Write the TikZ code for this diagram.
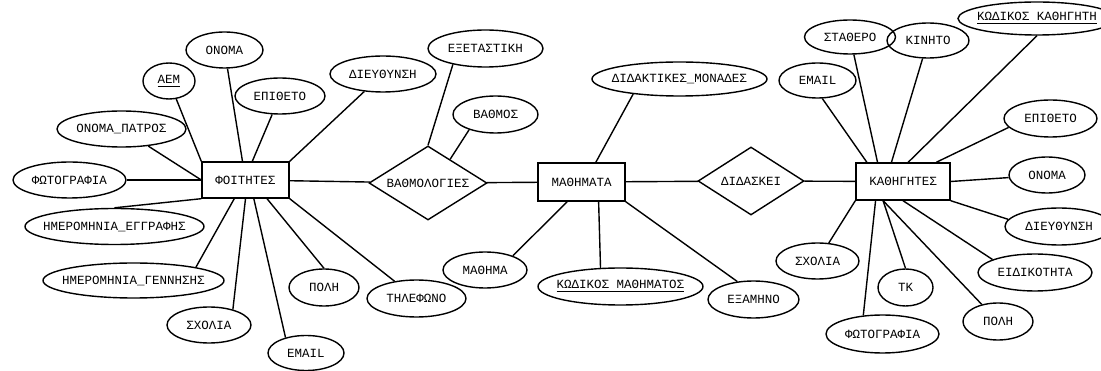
\documentclass[tikz,border=0pt]{standalone}
\usepackage{fontspec}
\setmonofont{Liberation Mono}
\usetikzlibrary{shapes.geometric}

\newlength\keywd
\newcommand\keyattr[1]{\settowidth\keywd{#1}#1\llap{\rule[-3.5pt]{\keywd}{1.3pt}}}

\begin{document}
\begin{tikzpicture}[x=1pt,y=-1pt,line width=1.4pt,
  font=\ttfamily\fontsize{12.5}{14}\selectfont,
  entity node/.style={rectangle,draw,inner sep=0pt},
  rel node/.style={diamond,draw,aspect=2,inner sep=0pt},
  attr node/.style={ellipse,draw,inner xsep=-20pt,inner ysep=0pt,minimum height=36pt}]

  \useasboundingbox (0,0) rectangle (1101,371);

  % entities and relationships
  \node[entity node,minimum width=87pt,minimum height=36pt] (foit) at (245.5,180) {ΦΟΙΤΗΤΕΣ};
  \node[entity node,minimum width=87pt,minimum height=38pt] (math) at (581.5,182) {ΜΑΘΗΜΑΤΑ};
  \node[entity node,minimum width=94pt,minimum height=37pt] (kath) at (903,181.5) {ΚΑΘΗΓΗΤΕΣ};
  \node[rel node,minimum width=118pt,minimum height=74pt] (bathm) at (428,183) {ΒΑΘΜΟΛΟΓΙΕΣ};
  \node[rel node,minimum width=106pt,minimum height=68pt] (didask) at (751,181) {ΔΙΔΑΣΚΕΙ};

  % attributes of ΦΟΙΤΗΤΕΣ
  \node[attr node,minimum width=77pt] (onoma1) at (224.5,50) {ΟΝΟΜΑ};
  \node[attr node,minimum width=52pt] (aem) at (169,81) {\keyattr{ΑΕΜ}};
  \node[attr node,minimum width=90pt] (epith1) at (280,96) {ΕΠΙΘΕΤΟ};
  \node[attr node,minimum width=106pt] (dieuth1) at (383,74) {ΔΙΕΥΘΥΝΣΗ};
  \node[attr node,minimum width=129pt] (patros) at (121.5,129) {ΟΝΟΜΑ\_ΠΑΤΡΟΣ};
  \node[attr node,minimum width=113pt] (photo1) at (69.5,180) {ΦΩΤΟΓΡΑΦΙΑ};
  \node[attr node,minimum width=179pt] (eggrafi) at (114.5,226.5) {ΗΜΕΡΟΜΗΝΙΑ\_ΕΓΓΡΑΦΗΣ};
  \node[attr node,minimum width=181pt,minimum height=35pt] (gennisi) at (133.5,280.5) {ΗΜΕΡΟΜΗΝΙΑ\_ΓΕΝΝΗΣΗΣ};
  \node[attr node,minimum width=84pt] (sxolia1) at (209,325) {ΣΧΟΛΙΑ};
  \node[attr node,minimum width=76pt,minimum height=35pt] (email1) at (306,353) {EMAIL};
  \node[attr node,minimum width=70pt,minimum height=37pt] (poli1) at (324,287.5) {ΠΟΛΗ};
  \node[attr node,minimum width=99pt,minimum height=37pt] (tilef) at (416.5,298.5) {ΤΗΛΕΦΩΝΟ};

  % attributes of ΒΑΘΜΟΛΟΓΙΕΣ
  \node[attr node,minimum width=115pt,minimum height=37pt] (exetast) at (485.5,48.5) {ΕΞΕΤΑΣΤΙΚΗ};
  \node[attr node,minimum width=85pt,minimum height=37pt] (bathmos) at (495.5,114.5) {ΒΑΘΜΟΣ};

  % attributes of ΜΑΘΗΜΑΤΑ
  \node[attr node,minimum width=175pt,minimum height=34pt] (didakt) at (679.5,79) {ΔΙΔΑΚΤΙΚΕΣ\_ΜΟΝΑΔΕΣ};
  \node[attr node,minimum width=84pt] (mathima) at (485,270) {ΜΑΘΗΜΑ};
  \node[attr node,minimum width=165pt,minimum height=37pt] (kodmath) at (620.5,286.5) {\keyattr{ΚΩΔΙΚΟΣ ΜΑΘΗΜΑΤΟΣ}};
  \node[attr node,minimum width=91pt,minimum height=37pt] (examino) at (753.5,299.5) {ΕΞΑΜΗΝΟ};

  % attributes of ΚΑΘΗΓΗΤΕΣ
  \node[attr node,minimum width=91pt,minimum height=34pt] (statero) at (850,37) {ΣΤΑΘΕΡΟ};
  \node[attr node,minimum width=82pt,minimum height=35pt] (kinito) at (928,40.5) {ΚΙΝΗΤΟ};
  \node[attr node,minimum width=158pt,minimum height=33pt] (kodkath) at (1037,18.5) {\keyattr{ΚΩΔΙΚΟΣ ΚΑΘΗΓΗΤΗ}};
  \node[attr node,minimum width=77pt,minimum height=35pt] (email2) at (817.5,80.5) {EMAIL};
  \node[attr node,minimum width=93pt,minimum height=37pt] (epith2) at (1050.5,118.5) {ΕΠΙΘΕΤΟ};
  \node[attr node,minimum width=76pt] (onoma2) at (1047,175) {ΟΝΟΜΑ};
  \node[attr node,minimum width=108pt,minimum height=37pt] (dieuth2) at (1059,226.5) {ΔΙΕΥΘΥΝΣΗ};
  \node[attr node,minimum width=114pt,minimum height=37pt] (eidik) at (1035,272.5) {ΕΙΔΙΚΟΤΗΤΑ};
  \node[attr node,minimum width=70pt,minimum height=37pt] (poli2) at (998,321.5) {ΠΟΛΗ};
  \node[attr node,minimum width=55pt,minimum height=37pt] (tk) at (905.5,287.5) {ΤΚ};
  \node[attr node,minimum width=113pt,minimum height=38pt] (photo2) at (882.5,334) {ΦΩΤΟΓΡΑΦΙΑ};
  \node[attr node,minimum width=83pt] (sxolia2) at (817.5,261) {ΣΧΟΛΙΑ};

  \path
    (foit) edge (onoma1)
    (foit.north west) edge (aem)
    (foit.70) edge (epith1)
    (foit.north east) edge (dieuth1)
    (foit.west) edge (patros)
    (foit.west) edge (photo1)
    (foit.south west) edge (eggrafi.north)
    (foit.-121) edge (gennisi.12)
    (foit.south) edge (sxolia1.33)
    (foit.-66) edge (email1.143)
    (foit.-41) edge (poli1.north)
    (foit.south east) edge (tilef)
    (foit) edge (bathm)
    (bathm.north) edge (exetast.-154)
    (bathm.47) edge (bathmos.-150)
    (bathm) edge (math)
    (math.54) edge (didakt.-162)
    (math.-126) edge (mathima.27)
    (math.-49) edge (kodmath.137)
    (math.south east) edge (examino.132)
    (math) edge (didask)
    (didask) edge (kath)
    (kath.152) edge (email2.-75)
    (kath.143) edge (statero)
    (kath.121) edge (kinito)
    (kath.75) edge (kodkath.south)
    (kath.30) edge (epith2.-168)
    (kath.east) edge (onoma2)
    (kath.south east) edge (dieuth2.172)
    (kath.south) edge (eidik.163)
    (kath.-136) edge (poli2)
    (kath.-136) edge (tk.north)
    (kath.-145) edge (photo2.136)
    (kath.south west) edge (sxolia2);
\end{tikzpicture}
\end{document}
